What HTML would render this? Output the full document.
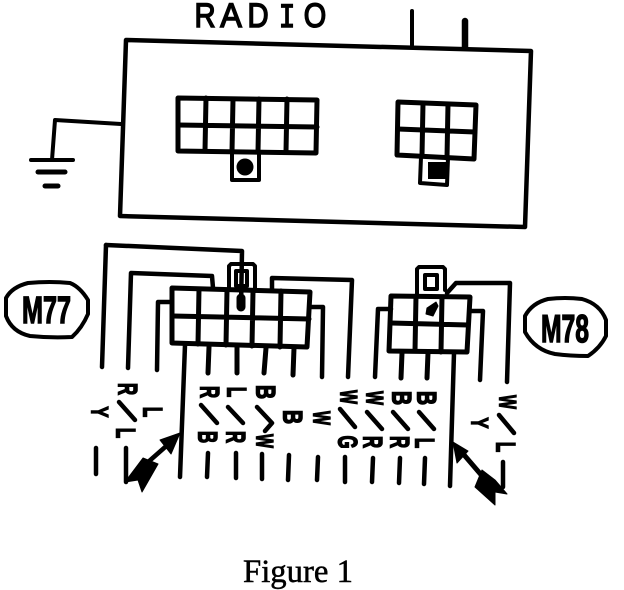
<!DOCTYPE html>
<html>
<head>
<meta charset="utf-8">
<style>
html,body{margin:0;padding:0;background:#fff;width:624px;height:590px;overflow:hidden}
svg{display:block}
.l{font-family:"Liberation Sans",sans-serif;font-weight:700;font-size:27px;text-anchor:middle;fill:#000;stroke:#000;stroke-width:1.6px}
.t{font-family:"Liberation Sans",sans-serif;font-size:34px;text-anchor:middle;fill:#000;stroke:#000;stroke-width:1.5px}
.b{font-family:"Liberation Sans",sans-serif;font-weight:700;fill:#000;stroke:#000;stroke-width:1.4px}
</style>
</head>
<body>
<svg width="624" height="590" viewBox="0 0 624 590" xmlns="http://www.w3.org/2000/svg">
<g fill="none" stroke="#000" stroke-width="4.5" stroke-linejoin="round" stroke-linecap="round">
<!-- radio -->
<path d="M126,40 L531,51 L525,227 L120,216 Z"/>
<path d="M412,11 V45" stroke-width="4"/>
<path d="M465,21 V47" stroke-width="6.5"/>
<!-- ground -->
<path d="M121,124 L55,120 L52,160" stroke-width="4"/>
<path d="M31,160 H73" stroke-width="4"/>
<path d="M38,172 H65" stroke-width="5"/>
<path d="M45,186 H58" stroke-width="5"/>
<!-- radio left connector -->
<path d="M178,98 L317,100 L316,153 L178,151 Z" stroke-width="5"/>
<path d="M178,125 L317,127 M206,98 L205,151 M233,99 L232,152 M259,99 L258,152 M287,99 L286,152" stroke-width="5"/>
<path d="M232,152 V180 H259 V152" stroke-width="4"/>
<circle cx="245" cy="167" r="8.5" fill="#000" stroke="none"/>
<!-- radio right connector -->
<path d="M398,102 L476,105 L474,159 L397,155 Z" stroke-width="5"/>
<path d="M398,129 L475,132 M423,103 L422,156 M448,104 L447,158" stroke-width="5"/>
<path d="M421,157 L420,183 L447,185 L448,158" stroke-width="4"/>
<rect x="428" y="162" width="20" height="17" fill="#000" stroke="none"/>
<!-- M77 connector -->
<path d="M172,288 L310,292 L307,347 L172,343 Z" stroke-width="5"/>
<path d="M173,316 L309,319 M199,289 L198,344 M227,290 L226,345 M253,291 L252,346 M281,291 L280,347" stroke-width="5"/>
<path d="M229,289 V266 L231,264 H253 L255,266 V291" stroke-width="4"/>
<rect x="236" y="271" width="11" height="15" stroke-width="4"/>
<path d="M106,245 L242,251 L241,308" stroke-width="4.5"/>
<path d="M102,367 L106,245" stroke-width="4.5"/>
<path d="M128,368 L131,273 L212,276 L213,288" stroke-width="4.5"/>
<path d="M157,370 L158,302 H170" stroke-width="4.5"/>
<path d="M272,290 V278 L352,280 L348,377" stroke-width="4.5"/>
<path d="M312,307 H323 L322,377" stroke-width="4.5"/>
<path d="M241,298 V307" stroke-width="9"/>
<path d="M185,345 L180,477" stroke-width="4.5"/>
<path d="M209,347 L208,373 M237,347 V373 M266,348 L264,373 M294,348 L293,375" stroke-width="5"/>
<path d="M96,448 V474 M126,448 V482 M208,453 L207,477 M236,453 V478 M262,454 V479 M289,455 L288,480 M318,457 L317,480 M345,457 V482 M373,458 L372,482 M400,458 L399,483 M425,458 L424,484 M503,462 V487" stroke-width="4.5"/>
<!-- M78 connector -->
<path d="M391,296 L470,297 L467,352 L389,351 Z" stroke-width="5"/>
<path d="M391,323 L468,325 M416,296 L415,351 M442,297 L441,352" stroke-width="5"/>
<path d="M417,294 V269 L419,267 H443 L445,269 V290" stroke-width="4"/>
<rect x="425" y="275" width="12" height="14" stroke-width="4"/>
<path d="M447,293 L456,283 H510 L507,382" stroke-width="4.5"/>
<path d="M391,309 H378 L375,377" stroke-width="4.5"/>
<path d="M470,311 H483 L480,380" stroke-width="4.5"/>
<path d="M402,353 L401,378 M428,353 L427,378" stroke-width="5"/>
<path d="M454,353 L450,486" stroke-width="4.5"/>
<!-- slashes -->
<path d="M119,402 L135,420 M201,405 L217,423 M228,407 L243,423 M257,407 L272,423 L265,431 M340,409 L355,427 M367,412 L382,429 M393,412 L408,429 M419,412 L434,429 M499,415 L514,433" stroke-width="4.5"/>
<!-- arrow shafts -->
<path d="M172,441 L147,463" stroke-width="4.5"/>
<path d="M459,449 L483,477" stroke-width="5"/>
<!-- bubbles -->
<path d="M28,283 Q50,281 70,283 Q80,287 88,300 L88,314 Q82,328 72,337 Q50,338 30,336 Q12,332 6,316 L6,298 Q12,287 28,283 Z" stroke-width="4"/>
<path d="M548,299 Q565,297 582,299 Q600,304 606,320 L606,336 Q600,348 588,356 Q570,356 555,354 Q535,350 525,332 L525,316 Q532,303 548,299 Z" stroke-width="4"/>
</g>
<g fill="#000" stroke="#000" stroke-width="1" stroke-linejoin="round">
<polygon points="436,302 438,306 433,316 426,314 427,308"/>
<polygon points="180,433 160,440 171,454"/>
<polygon points="125,482 143,458 158,464 142,492 138,480"/>
<polygon points="453,442 468,451 457,463"/>
<polygon points="475,487 482,470 495,480 507,494 495,492 495,505"/>
</g>
<!-- rotated wire labels -->
<g>
<text class="l" transform="translate(128,389) rotate(90) scale(.62,1)" y="9.5">R</text>
<text class="l" transform="translate(153,412) rotate(90) scale(.62,1)" y="9.5">L</text>
<text class="l" transform="translate(100,412) rotate(90) scale(.62,.9)" y="9.5">Y</text>
<text class="l" transform="translate(126,433) rotate(90) scale(.62,1)" y="9.5">L</text>
<text class="l" transform="translate(210,392) rotate(90) scale(.62,1)" y="9.5">R</text>
<text class="l" transform="translate(208,437) rotate(90) scale(.62,1)" y="9.5">B</text>
<text class="l" transform="translate(237,392) rotate(90) scale(.62,1)" y="9.5">L</text>
<text class="l" transform="translate(236,437) rotate(90) scale(.62,1)" y="9.5">R</text>
<text class="l" transform="translate(266,392) rotate(90) scale(.72,1)" y="9.5">B</text>
<text class="l" transform="translate(265,441) rotate(90) scale(.55,.9)" y="9.5">W</text>
<text class="l" transform="translate(293,417) rotate(90) scale(.72,1)" y="9.5">B</text>
<text class="l" transform="translate(322,418) rotate(90) scale(.55,.9)" y="9.5">W</text>
<text class="l" transform="translate(349,397) rotate(90) scale(.55,.9)" y="9.5">W</text>
<text class="l" transform="translate(348,442) rotate(90) scale(.62,1)" y="9.5">G</text>
<text class="l" transform="translate(375,398) rotate(90) scale(.55,.9)" y="9.5">W</text>
<text class="l" transform="translate(373,442) rotate(90) scale(.62,1)" y="9.5">R</text>
<text class="l" transform="translate(402,398) rotate(90) scale(.72,1)" y="9.5">B</text>
<text class="l" transform="translate(400,442) rotate(90) scale(.62,1)" y="9.5">R</text>
<text class="l" transform="translate(427,398) rotate(90) scale(.72,1)" y="9.5">B</text>
<text class="l" transform="translate(425,443) rotate(90) scale(.62,1)" y="9.5">L</text>
<text class="l" transform="translate(508,402) rotate(90) scale(.55,.9)" y="9.5">W</text>
<text class="l" transform="translate(480,423) rotate(90) scale(.62,.9)" y="9.5">Y</text>
<text class="l" transform="translate(506,447) rotate(90) scale(.62,1)" y="9.5">L</text>
</g>
<!-- RADIO -->
<text class="t" transform="translate(205,27) scale(.86,1)">R</text>
<text class="t" transform="translate(231,27) scale(.95,1)">A</text>
<text class="t" transform="translate(258,27) scale(.86,1)">D</text>
<text transform="translate(287,27) scale(.8,1)" style="font-family:'Liberation Mono',monospace;font-size:34px;text-anchor:middle;fill:#000;stroke:#000;stroke-width:1.5px">I</text>
<text class="t" transform="translate(315,27) scale(.85,1)">O</text>
<!-- bubble labels -->
<text class="b" x="22" y="323" textLength="49" lengthAdjust="spacingAndGlyphs" font-size="38">M77</text>
<text class="b" x="541" y="342" textLength="48" lengthAdjust="spacingAndGlyphs" font-size="39">M78</text>
<!-- caption -->
<text x="243" y="582" textLength="110" lengthAdjust="spacingAndGlyphs" style="font-family:'Liberation Serif',serif;font-size:33px;fill:#000;stroke:#000;stroke-width:.5px">Figure 1</text>
</svg>
</body>
</html>
